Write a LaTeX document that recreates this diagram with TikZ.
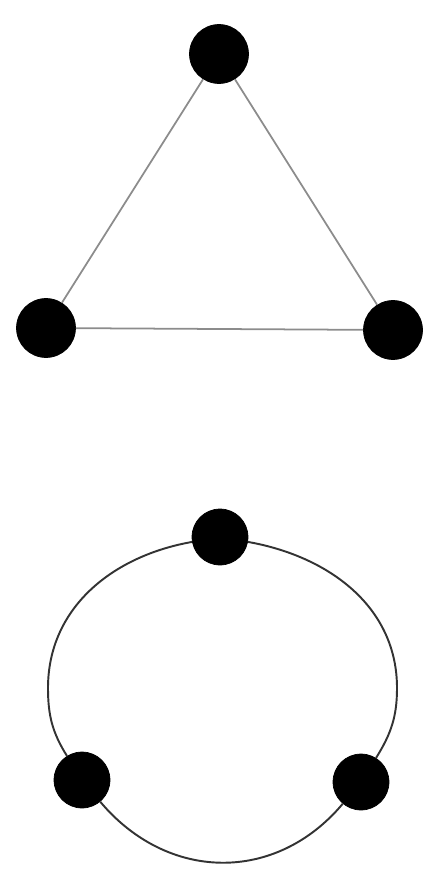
\documentclass[tikz,border=0pt]{standalone}
\usepackage{tikz}
\usetikzlibrary{positioning,calc}

\begin{document}
\begin{tikzpicture}[
  x=0.02cm, y=-0.02cm,
  dotNode/.style={circle, fill=black, draw=black, inner sep=0pt, minimum size=1.18cm},
  smallDot/.style={dotNode, minimum size=1.12cm},
  triEdge/.style={draw=black!45, line width=1pt},
  ringEdge/.style={draw=black!80, line width=1.1pt}
]
  \useasboundingbox (0,0) rectangle (435,871);

  % Triangle
  \node[dotNode] (t1) at (219,54) {};
  \node[dotNode] (t2) at (46,328) {};
  \node[dotNode] (t3) at (393,330) {};
  \draw[triEdge] (t1) -- (t2) -- (t3) -- (t1);

  % Ring
  \node[smallDot] (r1) at (220,537) {};
  \node[smallDot] (r2) at (82,780) {};
  \node[smallDot] (r3) at (361,782) {};
  \coordinate (eR) at (397,688);
  \coordinate (eL) at (48,688);
  \draw[ringEdge] (r1) to[out=-10, in=90] (eR) to[out=-90, in=58] (r3);
  \draw[ringEdge] (r3) to[out=-130, in=-50, looseness=1.1] (r2);
  \draw[ringEdge] (r2) to[out=122, in=-90] (eL) to[out=90, in=190] (r1);
\end{tikzpicture}
\end{document}
